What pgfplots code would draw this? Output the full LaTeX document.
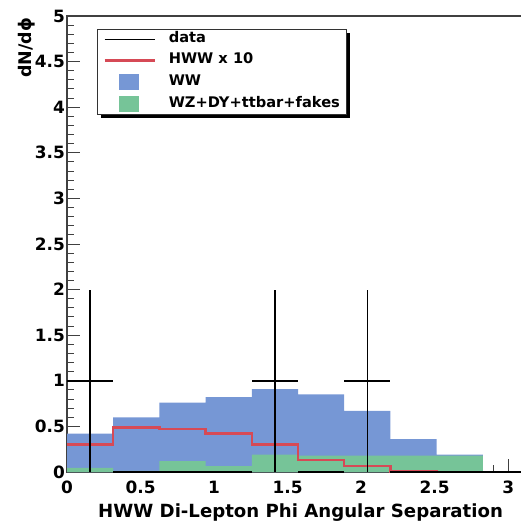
\documentclass[border=0pt]{standalone}
\usepackage{fontspec}
\setmainfont{DejaVu Sans}
\usepackage{pgfplots}
\pgfplotsset{compat=1.18}
\usetikzlibrary{calc}
\definecolor{wwblue}{RGB}{118,151,213}
\definecolor{bkgreen}{RGB}{118,196,152}
\definecolor{hwwred}{RGB}{214,74,86}
\begin{document}
\begin{tikzpicture}
\begin{axis}[
  name=ax, at={(0,0)}, anchor=south west,
  scale only axis, width=462bp, height=456bp,
  xmin=0, xmax=3.14159, ymin=0, ymax=5,
  xtick={0,0.5,1,1.5,2,2.5,3},
  ytick={0,0.5,1,1.5,2,2.5,3,3.5,4,4.5,5},
  minor tick num=4,
  tick align=inside, tick pos=left,
  major tick length=13bp, minor tick length=7bp,
  every tick/.style={black!75, line width=1bp},
  axis line style={black!75, line width=1.3bp},
  /pgf/number format/assume math mode=true,
  tick label style={font=\fontsize{17}{17}\selectfont\bfseries},
  yticklabel style={inner sep=2bp},
  xticklabel style={inner sep=2bp, yshift=-7bp},
  xlabel={HWW Di-Lepton Phi Angular Separation},
  xlabel style={at={(rel axis cs:0.944,0)}, anchor=base east, yshift=-45bp, inner sep=0pt, font=\fontsize{18.2}{18.2}\selectfont\bfseries},
  ylabel={dN/dϕ},
  ylabel style={at={(rel axis cs:-0.0866,0.996)}, anchor=east, inner sep=0pt, font=\fontsize{17.5}{17.5}\selectfont\bfseries},
  legend style={name=leg, at={(0.065,0.9715)}, anchor=north west, draw=black!80, line width=0.8bp, fill=white,
    font=\fontsize{14.7}{14.7}\selectfont\bfseries, inner xsep=6bp, inner ysep=2.5bp, row sep=6bp,
    nodes={inner sep=0bp, text height=11bp, text depth=4bp},
    /tikz/every odd column/.append style={column sep=13bp}},
  legend cell align=left,
]
\addlegendimage{legend image code/.code={\draw[black, line width=1.3bp] (0bp,0bp) -- (50bp,0bp);}}
\addlegendentry{data}
\addlegendimage{legend image code/.code={\draw[hwwred, line width=2.4bp] (0bp,0bp) -- (50bp,0bp);}}
\addlegendentry{HWW x 10}
\addlegendimage{legend image code/.code={\fill[wwblue] (15bp,-7.5bp) rectangle (34bp,7.5bp);}}
\addlegendentry{WW}
\addlegendimage{legend image code/.code={\fill[bkgreen] (15bp,-7.5bp) rectangle (34bp,7.5bp);}}
\addlegendentry{WZ+DY+ttbar+fakes}

% WW (stacked total)
\addplot[const plot, fill=wwblue, draw=none, forget plot] coordinates {
 (0,0.42) (0.31416,0.60) (0.62832,0.76) (0.94248,0.82) (1.25664,0.91)
 (1.57080,0.85) (1.88496,0.67) (2.19911,0.36) (2.51327,0.19) (2.82743,0) (3.14159,0)
} \closedcycle;
% WZ+DY+ttbar+fakes
\addplot[const plot, fill=bkgreen, draw=none, forget plot] coordinates {
 (0,0.045) (0.31416,0.012) (0.62832,0.12) (0.94248,0.065) (1.25664,0.19)
 (1.57080,0.18) (1.88496,0.18) (2.19911,0.18) (2.51327,0.18) (2.82743,0) (3.14159,0)
} \closedcycle;
% HWW x 10
\addplot[const plot, draw=hwwred, line width=2.4bp, forget plot] coordinates {
 (0,0.30) (0.31416,0.49) (0.62832,0.47) (0.94248,0.42) (1.25664,0.30)
 (1.57080,0.13) (1.88496,0.065) (2.19911,0.005) (2.51327,0.002) (2.82743,0.0) (3.14159,0.0)
};
% data
\addplot[black, line width=1.3bp, only marks, mark=*, mark size=0pt,
  mark options={draw opacity=0, fill opacity=0}, forget plot,
  error bars/.cd, x dir=both, x explicit, y dir=both, y explicit, error mark=none,
  error bar style={black, line width=1.4bp, draw opacity=1}] coordinates {
 (0.15708,1) +- (0.15708,1)
 (0.47124,0) +- (0.15708,0)
 (0.78540,0) +- (0.15708,0)
 (1.09956,0) +- (0.15708,0)
 (1.41372,1) +- (0.15708,1)
 (1.72788,0) +- (0.15708,0)
 (2.04204,1) +- (0.15708,1)
 (2.35619,0) +- (0.15708,0)
 (2.67035,0) +- (0.15708,0)
 (2.98451,0) +- (0.15708,0)
};
\end{axis}
% legend shadow (right and bottom strips)
\fill[black] ($(leg.north east)+(0.4bp,-4bp)$) rectangle ($(leg.south east)+(4bp,-4bp)$);
\fill[black] ($(leg.south west)+(4bp,-0.4bp)$) rectangle ($(leg.south east)+(4bp,-4bp)$);
\pgfresetboundingbox
\useasboundingbox (-67bp,-50bp) rectangle (454bp,472bp);
\end{tikzpicture}
\end{document}
